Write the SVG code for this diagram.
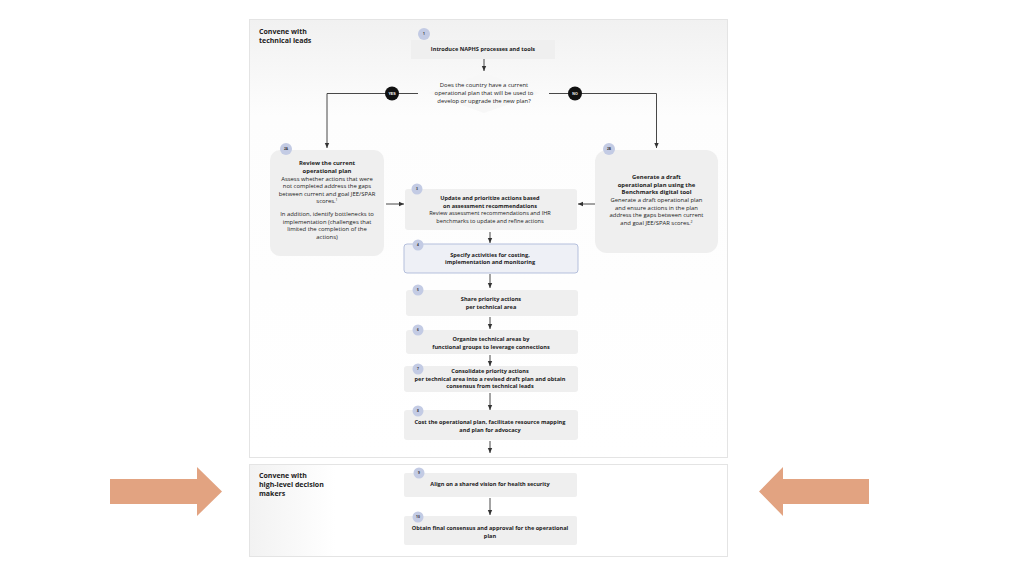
<svg xmlns="http://www.w3.org/2000/svg" width="1024" height="576" viewBox="0 0 1024 576">
<defs>
<linearGradient id="pg" x1="0" y1="0" x2="0" y2="1">
<stop offset="0" stop-color="#f1f1f1"/>
<stop offset="0.22" stop-color="#fdfdfd"/>
<stop offset="1" stop-color="#ffffff"/>
</linearGradient>
<linearGradient id="pg2" x1="0" y1="0" x2="1" y2="0">
<stop offset="0" stop-color="#f2f2f2"/>
<stop offset="0.18" stop-color="#ffffff"/>
</linearGradient>
<marker id="ah" markerWidth="6" markerHeight="6" refX="5" refY="3" orient="auto" markerUnits="userSpaceOnUse">
<path d="M0,0.8 L5,3 L0,5.2 z" fill="#333"/>
</marker>
</defs>
<style>
.panel{stroke:#e4e4e4;stroke-width:1}
.box{fill:#efefef}
.num{fill:#c3cbe4}
.t{font-family:"Open Sans","Liberation Sans",sans-serif;fill:#222;text-anchor:middle}
.b{font-weight:bold;font-size:5.6px}
.n{font-size:5.6px}
.m{font-size:5.9px}
.mb{font-weight:bold;font-size:5.9px}
.sec{font-family:"Open Sans","Liberation Sans",sans-serif;font-weight:bold;font-size:7px;fill:#222}
.nt{font-family:"Open Sans","Liberation Sans",sans-serif;font-weight:bold;font-size:3.3px;fill:#333;text-anchor:middle}
.yn{font-family:"Liberation Sans",sans-serif;font-weight:bold;font-size:3.6px;fill:#fff;text-anchor:middle}
.ca{stroke:#333;stroke-width:0.9;fill:none;marker-end:url(#ah)}
.or{fill:#e2a381}
</style>
<rect width="1024" height="576" fill="#ffffff"/>

<g id="panel1">
<rect class="panel" x="249.5" y="19.5" width="478" height="438" fill="url(#pg)"/>
<text class="sec" x="259" y="34">Convene with</text>
<text class="sec" x="259" y="43">technical leads</text>
</g>
<g id="panel2">
<rect class="panel" x="249.5" y="464.5" width="478" height="92" fill="url(#pg2)"/>
<text class="sec" x="259" y="478">Convene with</text>
<text class="sec" x="259" y="487">high-level decision</text>
<text class="sec" x="259" y="496">makers</text>
</g>

<g id="arrowLeft"><path class="or" d="M110,479 H197 V467 L222,491.5 L197,516 V504 H110 Z"/></g>
<g id="arrowRight"><path class="or" d="M869,479 H783 V467 L759,491.5 L783,516 V504 H869 Z"/></g>

<g id="connectors">
<line class="ca" x1="484" y1="59" x2="484" y2="71"/>
<polyline class="ca" points="418,93.5 327,93.5 327,148"/>
<polyline class="ca" points="549,93.5 656.5,93.5 656.5,148"/>
<line class="ca" x1="386" y1="204" x2="404" y2="204"/>
<line class="ca" x1="595" y1="204" x2="578" y2="204"/>
<line class="ca" x1="490" y1="232" x2="490" y2="243"/>
<line class="ca" x1="490" y1="274" x2="490" y2="288"/>
<line class="ca" x1="490" y1="317" x2="490" y2="329"/>
<line class="ca" x1="490" y1="355" x2="490" y2="366"/>
<line class="ca" x1="490" y1="393" x2="490" y2="410"/>
<line class="ca" x1="490" y1="441" x2="490" y2="453"/>
<line class="ca" x1="490" y1="498" x2="490" y2="515"/>
<g id="yes"><circle cx="392" cy="93.5" r="7" fill="#111"/><text class="yn" x="392" y="94.8">YES</text></g>
<g id="no"><circle cx="575" cy="93.5" r="7" fill="#111"/><text class="yn" x="575" y="94.8">NO</text></g>
</g>

<g id="n1">
<rect class="box" x="411" y="40" width="144" height="19"/>
<circle class="num" cx="424" cy="34" r="6"/><text class="nt" x="424" y="35.2">1</text>
<text class="t b" x="483" y="51">Introduce NAPHS processes and tools</text>
</g>

<g id="q">
<path d="M484,73 L540,93 L484,113 L428,93 Z" fill="#f7f7f7"/>
<text class="t m" x="484" y="87">Does the country have a current</text>
<text class="t m" x="484" y="95">operational plan that will be used to</text>
<text class="t m" x="484" y="103">develop or upgrade the new plan?</text>
</g>

<g id="n2a">
<rect class="box" x="270" y="150" width="114" height="106" rx="10"/>
<circle class="num" cx="286" cy="149" r="6"/><text class="nt" x="286" y="150.2">2A</text>
<text class="t mb" x="327" y="165">Review the current</text>
<text class="t mb" x="327" y="172.5">operational plan</text>
<text class="t m" x="327" y="180.5">Assess whether actions that were</text>
<text class="t m" x="327" y="188">not completed address the gaps</text>
<text class="t m" x="327" y="195.5">between current and goal JEE/SPAR</text>
<text class="t m" x="327" y="203">scores.<tspan font-size="3.5px" dy="-2">1</tspan></text>
<text class="t m" x="327" y="216">In addition, identify bottlenecks to</text>
<text class="t m" x="327" y="223.5">implementation (challenges that</text>
<text class="t m" x="327" y="231">limited the completion of the</text>
<text class="t m" x="327" y="238.5">actions)</text>
</g>

<g id="n2b">
<rect class="box" x="595" y="150" width="123" height="103" rx="12"/>
<circle class="num" cx="609" cy="149" r="6"/><text class="nt" x="609" y="150.2">2B</text>
<text class="t mb" x="656.5" y="179">Generate a draft</text>
<text class="t mb" x="656.5" y="186.5">operational plan using the</text>
<text class="t mb" x="656.5" y="194">Benchmarks digital tool</text>
<text class="t m" x="656.5" y="202">Generate a draft operational plan</text>
<text class="t m" x="656.5" y="209.5">and ensure actions in the plan</text>
<text class="t m" x="656.5" y="217">address the gaps between current</text>
<text class="t m" x="656.5" y="224.5">and goal JEE/SPAR scores.<tspan font-size="3.5px" dy="-2">2</tspan></text>
</g>

<g id="n3">
<rect class="box" x="405" y="189" width="172" height="41" rx="3"/>
<circle class="num" cx="417" cy="189" r="5.5"/><text class="nt" x="417" y="190.2">3</text>
<text class="t b" x="490" y="200">Update and prioritize actions based</text>
<text class="t b" x="490" y="207.5">on assessment recommendations</text>
<text class="t n" x="490" y="215">Review assessment recommendations and IHR</text>
<text class="t n" x="490" y="222.5">benchmarks to update and refine actions</text>
</g>

<g id="n4">
<rect x="404" y="244" width="174" height="29" rx="3" fill="#eef0f6" stroke="#b4bfdc" stroke-width="1"/>
<circle class="num" cx="418" cy="245" r="5.5"/><text class="nt" x="418" y="246.2">4</text>
<text class="t b" x="490" y="256.5">Specify activities for costing,</text>
<text class="t b" x="490" y="264">implementation and monitoring</text>
</g>

<g id="n5">
<rect class="box" x="406" y="290" width="172" height="26" rx="3"/>
<circle class="num" cx="418" cy="290" r="5.5"/><text class="nt" x="418" y="291.2">5</text>
<text class="t b" x="491" y="301">Share priority actions</text>
<text class="t b" x="491" y="308.5">per technical area</text>
</g>

<g id="n6">
<rect class="box" x="406" y="330" width="172" height="24" rx="3"/>
<circle class="num" cx="418" cy="330" r="5.5"/><text class="nt" x="418" y="331.2">6</text>
<text class="t b" x="491" y="341">Organize technical areas by</text>
<text class="t b" x="491" y="348.5">functional groups to leverage connections</text>
</g>

<g id="n7">
<rect class="box" x="404" y="366" width="174" height="26" rx="3"/>
<circle class="num" cx="418" cy="369" r="5.5"/><text class="nt" x="418" y="370.2">7</text>
<text class="t b" x="490" y="373">Consolidate priority actions</text>
<text class="t b" x="490" y="380.5">per technical area into a revised draft plan and obtain</text>
<text class="t b" x="490" y="388">consensus from technical leads</text>
</g>

<g id="n8">
<rect class="box" x="404" y="410" width="174" height="30" rx="3"/>
<circle class="num" cx="418" cy="411" r="5.5"/><text class="nt" x="418" y="412.2">8</text>
<text class="t b" x="490" y="424">Cost the operational plan, facilitate resource mapping</text>
<text class="t b" x="490" y="431.5">and plan for advocacy</text>
</g>

<g id="n9">
<rect class="box" x="404" y="473" width="173" height="24" rx="2"/>
<circle class="num" cx="419" cy="473" r="5.5"/><text class="nt" x="419" y="474.2">9</text>
<text class="t b" x="490" y="486">Align on a shared vision for health security</text>
</g>

<g id="n10">
<rect class="box" x="404" y="516" width="173" height="29" rx="2"/>
<circle class="num" cx="418" cy="517" r="5.5"/><text class="nt" x="418" y="518.2">10</text>
<text class="t b" x="490" y="530">Obtain final consensus and approval for the operational</text>
<text class="t b" x="490" y="537.5">plan</text>
</g>
</svg>
